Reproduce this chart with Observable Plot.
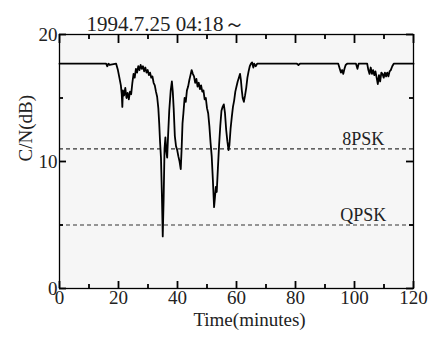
<!DOCTYPE html>
<html>
<head>
<meta charset="utf-8">
<script src="https://cdn.jsdelivr.net/npm/d3@7"></script>
<script src="https://cdn.jsdelivr.net/npm/@observablehq/plot@0.6"></script>
<style>
  html, body { margin: 0; padding: 0; background: white; }
</style>
</head>
<body>
<div id="chart"></div>
<script>
const titleText = "1994.7.25 04:18～";
const xLabel = "Time(minutes)";
const yLabel = "C/N(dB)";

const times = [0, 15.8, 16.2, 16.6, 17.0, 19.2,
  19.8, 20.3, 20.8, 21.1, 21.3, 21.5, 21.9, 22.3, 22.7, 23.1, 23.5, 23.9, 24.3, 24.7,
  25.1, 25.5, 25.9, 26.3, 26.7, 27.1, 27.5, 27.9, 28.3, 28.7, 29.1, 29.5, 29.9, 30.3,
  30.7, 31.1, 31.5, 31.9, 32.3, 32.7, 33.1, 33.5, 33.8, 34.1, 34.4, 34.7, 35.0, 35.3,
  35.6, 35.9, 36.2, 36.5, 36.8, 37.2, 37.7, 38.1, 38.4, 38.7, 39.1, 39.5, 39.9, 40.3,
  40.7, 41.1, 41.4, 41.7, 42.0, 42.4, 42.8, 43.2, 43.6, 44.0, 44.4, 44.8, 45.2, 45.6,
  46.0, 46.4, 46.8, 47.2, 47.6, 48.0, 48.4, 48.8, 49.2, 49.6, 50.0, 50.4, 50.8, 51.2,
  51.6, 52.0, 52.4, 52.7, 53.0, 53.3, 53.7, 54.1, 54.5, 54.9, 55.3, 55.7, 56.1, 56.5,
  56.9, 57.3, 57.6, 58.0, 58.4, 58.8, 59.2, 59.6, 60.0, 60.4, 60.8, 61.2, 61.5, 61.8,
  62.1, 62.5, 62.9, 63.3, 63.7, 64.1, 64.5, 64.9, 65.3, 65.7, 66.0, 66.5, 67.0, 68.0,
  80.5, 81.0, 81.5, 94.5, 95.0, 95.4, 95.8, 96.2, 96.6, 97.0, 97.5, 100.5, 101.0, 101.4,
  104.3, 104.7, 105.1, 105.5, 105.9, 106.3, 106.7, 107.1, 107.5, 107.9, 108.3, 108.7,
  109.1, 109.5, 109.9, 110.3, 110.7, 111.1, 111.5, 111.9, 112.3, 112.8, 113.3, 120];

const cn = [17.7, 17.7, 17.5, 17.7, 17.6, 17.7,
  17.2, 16.6, 16.0, 15.3, 14.3, 15.6, 15.2, 15.8, 15.0, 15.4, 14.9, 15.5, 15.3, 16.2,
  16.9, 16.6, 17.3, 17.0, 17.5, 17.2, 17.6, 17.3, 17.5, 17.1, 17.4, 17.0, 17.2, 16.8,
  17.0, 16.6, 16.7, 16.2, 16.0, 15.5, 15.1, 14.2, 13.0, 11.5, 10.3, 7.5, 4.1, 7.0,
  11.0, 11.9, 10.8, 10.3, 12.0, 14.0, 15.6, 16.3, 15.5, 14.2, 12.0, 11.2, 10.9, 10.4,
  10.0, 9.4, 11.0, 13.0, 13.8, 15.0, 14.7, 15.6, 15.9, 16.4, 16.8, 17.2, 16.9, 16.7,
  16.2, 16.5, 15.9, 16.2, 15.7, 16.0, 15.5, 15.6, 14.9, 15.0, 14.2, 13.8, 12.8, 11.5,
  10.4, 8.5, 6.4, 7.2, 8.0, 7.6, 9.5, 11.3, 12.8, 14.0, 14.3, 14.5, 13.8, 12.5,
  11.6, 10.9, 11.3, 12.6, 13.5, 14.3, 14.8, 15.5, 15.9, 16.3, 16.6, 16.9, 16.4, 15.6,
  15.0, 14.7, 15.2, 15.8, 16.6, 17.1, 17.5, 17.7, 17.8, 17.4, 17.7, 17.5, 17.7, 17.7,
  17.7, 17.6, 17.7, 17.7, 17.3, 17.0, 17.2, 16.9, 17.3, 17.6, 17.7, 17.7, 17.3, 17.7,
  17.7, 17.2, 16.9, 17.4, 16.9, 17.2, 16.8, 17.1, 16.6, 16.1, 16.8, 16.3,
  17.0, 16.9, 16.6, 17.0, 16.7, 17.0, 16.7, 17.1, 17.2, 17.5, 17.7, 17.7];

const xDomain = [0, 120];
const yDomain = [0, 20];
const xMajor = [0, 20, 40, 60, 80, 100, 120];
const xMinor = [10, 30, 50, 70, 90, 110];
const yMajor = [0, 10, 20];
const yMinor = [5, 15];
const thresholds = [11, 5];
const thresholdNames = ["8PSK", "QPSK"];
const thresholdLabelAt = 103;

const data = times.map((t, i) => ({t, v: cn[i]}));
const thr = thresholds.map((y, i) => ({y, name: thresholdNames[i], x: thresholdLabelAt}));

const W = 432, H = 338, mL = 59, mR = 19, mT = 34, mB = 50;
const frameW = W - mL - mR, frameH = H - mT - mB;
// convert pixel tick lengths into data units along each axis
const pxX = (xDomain[1] - xDomain[0]) / frameW;
const pxY = (yDomain[1] - yDomain[0]) / frameH;
const ink = "#222";
const tickStyle = {stroke: "black", strokeWidth: 1.8};
const asRows = vals => vals.map(v => ({v}));
const bottomTicks = (vals, len) => Plot.ruleX(asRows(vals), {x: "v", y1: yDomain[0], y2: yDomain[0] + len * pxY, ...tickStyle});
const topTicks = (vals, len) => Plot.ruleX(asRows(vals), {x: "v", y1: yDomain[1], y2: yDomain[1] - len * pxY, ...tickStyle});
const leftTicks = (vals, len) => Plot.ruleY(asRows(vals), {y: "v", x1: xDomain[0], x2: xDomain[0] + len * pxX, ...tickStyle});
const rightTicks = (vals, len) => Plot.ruleY(asRows(vals), {y: "v", x1: xDomain[1], x2: xDomain[1] - len * pxX, ...tickStyle});

const chart = Plot.plot({
  width: W,
  height: H,
  marginLeft: mL,
  marginRight: mR,
  marginTop: mT,
  marginBottom: mB,
  style: {fontFamily: "'Liberation Serif', 'DejaVu Serif', serif", fontSize: "19px", color: ink, background: "white"},
  x: {domain: xDomain},
  y: {domain: yDomain},
  marks: [
    Plot.frame({fill: "#f6f6f6"}),
    Plot.ruleY(thr, {y: "y", stroke: "#333", strokeWidth: 1.2, strokeDasharray: "4,3"}),
    Plot.text(thr, {x: "x", y: "y", text: "name", dy: -4, lineAnchor: "bottom", fontSize: 18, fill: ink}),
    Plot.line(data, {x: "t", y: "v", stroke: "black", strokeWidth: 1.8}),
    // tick labels
    Plot.axisX(xMajor, {anchor: "bottom", tickSize: 0, tickPadding: 2, label: null, fontSize: 19}),
    Plot.axisY(yMajor, {anchor: "left", tickSize: 0, tickPadding: 2, label: null, fontSize: 19}),
    // inward ticks
    bottomTicks(xMajor, 7),
    bottomTicks(xMinor, 4),
    topTicks(xMajor, 9),
    topTicks(xMinor, 5),
    leftTicks(yMajor, 7),
    leftTicks(yMinor, 4),
    rightTicks(yMajor, 7),
    rightTicks(yMinor, 4),
    // titles
    Plot.text([titleText], {frameAnchor: "top-left", dx: 27, dy: -4, lineAnchor: "bottom", textAnchor: "start", fontSize: 21, fill: ink}),
    Plot.text([yLabel], {frameAnchor: "left", dx: -34, rotate: -90, fontSize: 19, fill: ink}),
    Plot.text([xLabel], {frameAnchor: "bottom", dx: 13, dy: 37, fontSize: 19, fill: ink}),
    Plot.frame({stroke: "black", strokeWidth: 1.3})
  ]
});
document.getElementById("chart").appendChild(chart);
</script>
</body>
</html>
